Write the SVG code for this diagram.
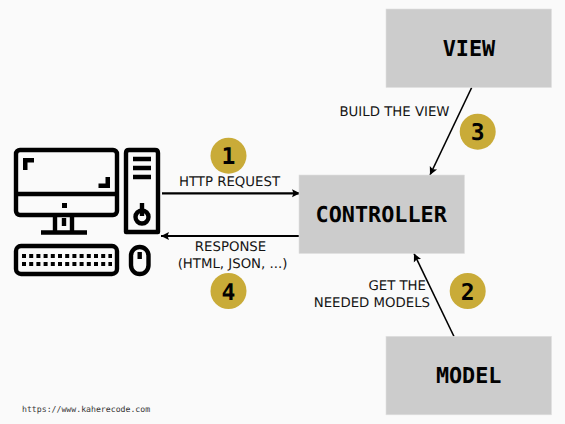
<svg xmlns="http://www.w3.org/2000/svg" width="565" height="424" viewBox="0 0 565 424">
<style>
text{text-rendering:geometricPrecision}
.box{fill:#ccc;stroke:#e0e0e0;stroke-width:.6}
.title{font:bold 21.8px "DejaVu Sans Mono",monospace;fill:#000;text-anchor:middle}
.lbl{font:13.3px "DejaVu Sans",sans-serif;fill:#111}
.mid{text-anchor:middle}
.end{text-anchor:end}
.badge{fill:#c9ab36}
.num{font:bold 23px "DejaVu Sans Mono",monospace;fill:#000;text-anchor:middle}
.conn{fill:none;stroke:#000}
.ic{fill:none;stroke:#000;stroke-width:4.400;stroke-linejoin:round}
.icf{fill:#000}
.url{font:8.2px "DejaVu Sans Mono",monospace;fill:#333}
.flat{opacity:.99}
</style>
<defs>
<marker id="a" markerUnits="userSpaceOnUse" markerWidth="10" markerHeight="10" refX="8" refY="5" orient="auto"><path d="M0 1 L8 5 L0 9 L1.5 5Z" fill="#000"/></marker>
</defs>
<rect width="565" height="424" fill="#fafafa"/>
<g id="connectors">
<path class="conn" stroke-width="2.2" d="M162 193.3H300" marker-end="url(#a)"/>
<path class="conn" stroke-width="2.2" d="M299 236H161" marker-end="url(#a)"/>
<path class="conn" stroke-width="1.6" d="M471.7 87.5L430 175" marker-end="url(#a)"/>
<path class="conn" stroke-width="1.6" d="M454 336.5L414 253.5" marker-end="url(#a)"/>
</g>
<g id="computer">
<rect class="ic" x="16" y="150" width="101" height="65" rx="4"/>
<path class="ic" d="M16 194H117"/>
<path class="icf" d="M23 158H34V162.500H27.500V170H23ZM110 188H98.500V183.500H105.500V177H110ZM62 203H67V208H62Z"/>
<path class="ic" d="M55 216V232M72 216V232M41 232.500H87"/>
<path class="ic" stroke-width="2" d="M64 218V226"/>
<path class="ic" d="M126 232V153Q126 150 129 150H155Q158 150 158 153V232Z"/>
<path class="ic" d="M133 159H151M133 168H151M133 177H151"/>
<circle class="ic" cx="142" cy="217" r="6.500"/>
<path class="ic" d="M142 203V216"/>
<rect class="ic" x="16" y="246" width="101" height="28" rx="5"/>
<path stroke="#000" stroke-width="4" stroke-dasharray="4 3.200" fill="none" d="M22 256H112M22 264H112"/>
<rect class="ic" x="131" y="247" width="17.500" height="27" rx="8.700"/>
<path class="ic" stroke-width="3" d="M139.700 252V259"/>
</g>
<g id="controller" class="flat">
<rect class="box" x="299" y="175" width="165.500" height="78.500"/>
<text class="title" x="381.200" y="221.500">CONTROLLER</text>
</g>
<g id="view" class="flat">
<rect class="box" x="386" y="9" width="165.500" height="78.500"/>
<text class="title" x="469" y="55.500">VIEW</text>
</g>
<g id="model" class="flat">
<rect class="box" x="386" y="336.300" width="165.500" height="78.500"/>
<text class="title" x="468.700" y="383">MODEL</text>
</g>
<g id="labels" class="flat">
<text class="lbl mid" x="229.500" y="186">HTTP REQUEST</text>
<text class="lbl mid" x="230.500" y="251">RESPONSE</text>
<text class="lbl mid" x="232.500" y="268">(HTML, JSON, ...)</text>
<text class="lbl" x="339.500" y="116">BUILD THE VIEW</text>
<text class="lbl end" x="426" y="290">GET THE</text>
<text class="lbl end" x="430" y="307">NEEDED MODELS</text>
<text class="url" x="22" y="412">https://www.kaherecode.com</text>
</g>
<g id="badge-1" class="flat"><circle class="badge" cx="228.500" cy="155.700" r="18"/><text class="num" x="228.500" y="164">1</text></g>
<g id="badge-2" class="flat"><circle class="badge" cx="467.700" cy="291" r="18"/><text class="num" x="467.700" y="299.500">2</text></g>
<g id="badge-3" class="flat"><circle class="badge" cx="477.700" cy="131.700" r="18"/><text class="num" x="477.700" y="140">3</text></g>
<g id="badge-4" class="flat"><circle class="badge" cx="228.500" cy="291" r="18"/><text class="num" x="228.500" y="299.500">4</text></g>
</svg>
